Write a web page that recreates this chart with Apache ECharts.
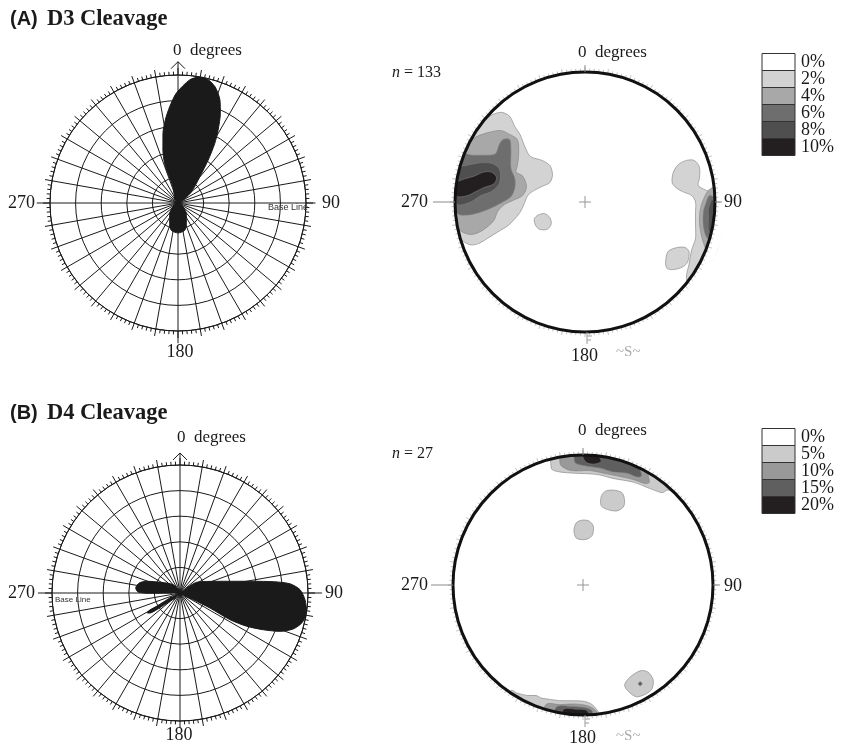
<!DOCTYPE html>
<html><head><meta charset="utf-8">
<script src="https://cdn.jsdelivr.net/npm/echarts@6/dist/echarts.min.js"></script>
<style>html,body{margin:0;padding:0;background:#fff}#c{width:843px;height:754px}</style>
</head><body><div id="c"></div>
<script>
// ===== Rose diagrams: lobe outlines traced in order (azimuth in degrees, length in grid-ring units, 5 rings) =====
const roseA_lobeN_deg = [315, 342.6, 341.2, 341.3, 344.1, 347.8, 351.3, 355.1, 359.1, 5.4, 9.8, 12.8, 17.6, 22.1, 25.3, 28.8, 31.7, 35.1, 39.8, 50.4, 61.6];
const roseA_lobeN_len = [0.18, 0.66, 1.21, 1.63, 2.15, 2.78, 3.28, 3.78, 4.29, 4.83, 5.0, 5.0, 4.77, 4.35, 3.87, 3.25, 2.73, 2.05, 1.33, 0.68, 0.22];
const roseA_lobeS_deg = [120, 142.2, 157.5, 166.2, 180, 193.8, 202.5, 217.8, 240];
const roseA_lobeS_len = [0.2, 0.53, 0.85, 1.1, 1.17, 1.1, 0.85, 0.53, 0.2];

const roseB_lobeE_deg = [53, 57.4, 72.3, 80, 83.1, 85.2, 88.4, 93.1, 99, 103.8, 107.6, 111, 113.8, 116.5, 118.1, 116.6, 116.7, 123];
const roseB_lobeE_len = [0.33, 0.78, 1.5, 2.64, 3.67, 4.31, 4.69, 4.89, 5.01, 4.9, 4.64, 4.18, 3.56, 2.91, 2.22, 1.31, 0.58, 0.23];
const roseB_lobeW_deg = [269.5, 269.5, 271.4, 276.5, 283.8, 289.4, 298.1, 321, 340];
const roseB_lobeW_len = [0.3, 1.18, 1.64, 1.74, 1.64, 1.38, 0.89, 0.42, 0.1];
const roseB_lobeSW_deg = [222, 233, 234.4, 236.5, 238.5, 240.5, 240.3, 246];
const roseB_lobeSW_len = [0.25, 0.8, 1.12, 1.42, 1.5, 1.38, 1.05, 0.35];

// ===== Stereonets: contour polygons (x,y in % of net radius, north up) =====
const A_2pct_west = [[-82,57],[-75,65],[-65,69],[-58,66],[-54,58],[-50,52],[-46,42],[-42,35],[-33,32],[-27,28],[-25,21],[-27,15],[-33,12],[-39,9],[-44,5],[-47,-2],[-50,-8],[-55,-14],[-59,-18],[-67,-23],[-75,-28],[-82,-32],[-88,-33],[-95,-29],[-98,-23],[-105,-10],[-106,10],[-101,32],[-93,48],[-86,58]];
const A_2pct_island = [[-39,-13],[-36,-10],[-31,-9],[-27,-12],[-26,-17],[-29,-21],[-35,-21],[-38,-18]];
const A_2pct_east = [[67,15],[68,23],[72,29],[78,32],[84,32],[88,27],[88,18],[87,13],[91,10],[96,8],[104,6],[106,-10],[104,-28],[98,-45],[88,-60],[81,-66],[78,-58],[80,-48],[82,-37],[85,-28],[85,-18],[85,-8],[85,0],[82,5],[75,8],[70,11]];
const A_2pct_eastBlob = [[62,-46],[64,-38],[71,-35],[77,-35],[80,-38],[79,-46],[75,-50],[68,-52],[63,-51]];
const A_4pct_west = [[-90,46],[-84,50],[-76,53],[-65,55],[-58,52],[-52,48],[-51,38],[-52,28],[-53,23],[-48,20],[-45,12],[-48,5],[-56,1],[-62,-2],[-67,-7],[-70,-14],[-75,-19],[-81,-23],[-88,-25],[-96,-22],[-104,-10],[-105,10],[-102,28],[-96,44]];
const A_4pct_east = [[95,9],[92,4],[89,-4],[88,-14],[89,-23],[91,-31],[94,-37],[100,-30],[104,-15],[104,2],[101,12]];
const A_6pct_west = [[-96,37],[-87,36],[-78,36],[-69,37],[-66,44],[-63,48],[-58,48],[-57,40],[-57,26],[-54,18],[-54,11],[-57,4],[-65,-1],[-73,-5],[-81,-8],[-90,-10],[-98,-9],[-105,5],[-104,25]];
const A_6pct_east = [[96,5],[93,-1],[91,-8],[91,-18],[93,-26],[96,-29],[103,-15],[103,0]];
const A_8pct_west = [[-100,26],[-92,28],[-82,30],[-73,30],[-67,27],[-65,22],[-66,14],[-72,8],[-80,5],[-88,0],[-98,-2],[-105,10]];
const A_8pct_east = [[98,2],[95,-5],[95,-12],[95,-22],[98,-24],[103,-10]];
const A_10pct_west = [[-99,15],[-92,18],[-85,20],[-78,23],[-72,23],[-68,19],[-70,14],[-78,11],[-84,8],[-90,5],[-98,4],[-104,8]];

const B_5pct_north = [[-25,95],[-24,89],[-18,87],[-7,86],[11,85],[23,82],[39,79],[52,74],[61,71],[65,73],[72,72],[55,88],[30,99],[0,104],[-20,102],[-27,98]];
const B_10pct_north = [[-18,97],[-17,92],[-9,88],[5,88],[16,86],[26,84],[39,81],[48,78],[51,79],[50,86],[52,90],[30,98],[0,104],[-19,101]];
const B_15pct_north = [[-7,99],[-6,94],[0,92],[13,90],[23,87],[34,86],[42,83],[45,84],[44,89],[45,94],[25,100],[0,104],[-8,103]];
const B_20pct_north = [[0,98],[3,94],[9,93],[14,95],[13,98],[14,102],[0,103]];
const B_5pct_blob1 = [[14,68],[17,72],[23,73],[30,71],[32,65],[31,60],[26,57],[19,58],[14,61]];
const B_5pct_blob2 = [[-7,42],[-5,48],[0,50],[5,49],[8,45],[7,38],[2,35],[-5,36]];
const B_5pct_blob3 = [[32,-77],[36,-71],[44,-66],[50,-67],[54,-73],[53,-80],[48,-84],[41,-86],[35,-82]];
const B_15pct_dot = [[44,-74.5],[45.5,-76],[44,-77.5],[42.5,-76]];
const B_5pct_south = [[-55,-81],[-51,-83],[-43,-85],[-36,-85],[-32,-87],[-25,-88],[-18,-89],[-8,-89],[1,-89.5],[7,-92],[12,-98],[14,-104],[-20,-103],[-45,-93],[-58,-86]];
const B_10pct_south = [[-28,-91.5],[-18,-92],[-8,-91.5],[2,-92.5],[8,-95],[11,-99],[10,-104],[-30,-100]];
const B_15pct_south = [[-20,-93.5],[-8,-93.5],[2,-94.5],[7,-97],[5,-104],[-22,-102]];
const B_20pct_south = [[-15,-95.5],[-5,-95.5],[3,-96.5],[5,-104],[-15,-104]];

// contour level index of each polygon (drawn in this order)
const contoursA = [
  [1, A_2pct_west], [1, A_2pct_island], [1, A_2pct_east], [1, A_2pct_eastBlob],
  [2, A_4pct_west], [2, A_4pct_east], [3, A_6pct_west], [3, A_6pct_east],
  [4, A_8pct_west], [4, A_8pct_east], [5, A_10pct_west]
];
const contoursB = [
  [1, B_5pct_north], [1, B_5pct_blob1], [1, B_5pct_blob2], [1, B_5pct_blob3], [1, B_5pct_south],
  [2, B_10pct_north], [2, B_10pct_south], [3, B_15pct_north], [3, B_15pct_dot], [3, B_15pct_south],
  [4, B_20pct_north], [4, B_20pct_south]
];

// legends
const legendA_labels = ['0%', '2%', '4%', '6%', '8%', '10%'];
const legendB_labels = ['0%', '5%', '10%', '15%', '20%'];
const nA = 133, nB = 27;

// ===== styles =====
const colorsA = ['#ffffff', '#d3d3d3', '#a8a8a8', '#6e6e6e', '#4f4f4f', '#231f20'];
const colorsB = ['#ffffff', '#cbcbcb', '#999999', '#5f5f5f', '#231f20'];
const INK = '#1a1a1a';
const SERIF = '"Liberation Serif","Times New Roman",serif';
const SANS = '"Liberation Sans",Arial,sans-serif';

const chart = echarts.init(document.getElementById('c'), null, {renderer: 'canvas'});

function angleAxis(i) {
  return {
    polarIndex: i, type: 'value', min: 0, max: 360, interval: 10, startAngle: 90, clockwise: true,
    axisLine: {show: true, lineStyle: {color: INK, width: 1}},
    axisTick: {show: true, length: 7, lineStyle: {color: INK, width: 1}},
    minorTick: {show: true, splitNumber: 5, length: 3.5, lineStyle: {color: INK, width: 1}},
    axisLabel: {show: false},
    splitLine: {show: true, lineStyle: {color: INK, width: 1}}
  };
}
function radiusAxis(i) {
  return {
    polarIndex: i, type: 'value', min: 0, max: 5, interval: 1,
    axisLine: {show: false}, axisTick: {show: false}, axisLabel: {show: false},
    splitLine: {show: true, lineStyle: {color: INK, width: 1}}
  };
}
function lobeSeries(pi, deg, len) {
  return {
    type: 'line', coordinateSystem: 'polar', polarIndex: pi, silent: true, z: 3,
    data: deg.map((d, k) => [len[k], d]), smooth: 0.25, symbol: 'none',
    lineStyle: {color: INK, width: 1}, areaStyle: {color: INK, opacity: 1}
  };
}
// axis extensions beyond the outer ring: [north, east, south, west] lengths in ring units
function roseFrame(pi, ext) {
  return {
    type: 'custom', coordinateSystem: 'polar', polarIndex: pi, silent: true, z: 4, data: [[0, 0]],
    renderItem: function (params, api) {
      const ch = [];
      const ln = (p, q, w) => ({type: 'line', shape: {x1: p[0], y1: p[1], x2: q[0], y2: q[1]}, style: {stroke: INK, lineWidth: w || 1}});
      [0, 90, 180, 270].forEach((a, k) => {
        if (ext[k] > 5) ch.push(ln(api.coord([5, a]), api.coord([ext[k], a])));
      });
      const tip = api.coord([ext[0], 0]);
      ch.push(ln(tip, [tip[0] - 7, tip[1] + 7]));
      ch.push(ln(tip, [tip[0] + 7, tip[1] + 7]));
      return {type: 'group', children: ch};
    }
  };
}
function contourSeries(gi, contours, colors) {
  return {
    type: 'custom', coordinateSystem: 'cartesian2d', xAxisIndex: gi, yAxisIndex: gi, silent: true, z: 2,
    data: contours.map(() => [0, 0]),
    renderItem: function (params, api) {
      const c = contours[params.dataIndex];
      return {
        type: 'polygon', shape: {points: c[1].map(p => api.coord(p)), smooth: 0.3},
        style: {fill: colors[c[0]], stroke: '#808080', lineWidth: 0.6}
      };
    }
  };
}
function netFrame(gi) {
  return {
    type: 'custom', coordinateSystem: 'cartesian2d', xAxisIndex: gi, yAxisIndex: gi, silent: true, z: 5,
    data: [[0, 0]],
    renderItem: function (params, api) {
      const c = api.coord([0, 0]);
      const R = api.size([100, 0])[0];
      const ch = [];
      const ln = (x1, y1, x2, y2, col, w) => ({type: 'line', shape: {x1, y1, x2, y2}, style: {stroke: col, lineWidth: w}});
      ch.push({type: 'ring', shape: {cx: c[0], cy: c[1], r: R + 11, r0: R}, style: {fill: '#fff'}});
      for (let a = 0; a < 360; a += 2) {
        const t = a * Math.PI / 180, s = Math.sin(t), k = -Math.cos(t);
        const L = (a % 10 === 0) ? 5 : 3.5;
        ch.push(ln(c[0] + s * (R + 0.5), c[1] + k * (R + 0.5), c[0] + s * (R + L), c[1] + k * (R + L), '#b2b2b2', 0.8));
      }
      ch.push({type: 'circle', shape: {cx: c[0], cy: c[1], r: R}, style: {fill: 'none', stroke: '#111', lineWidth: 3}});
      // center cross
      ch.push(ln(c[0] - 6, c[1], c[0] + 6, c[1], '#8a8a8a', 0.9));
      ch.push(ln(c[0], c[1] - 6, c[0], c[1] + 6, '#8a8a8a', 0.9));
      // cardinal marks
      ch.push(ln(c[0] - R - 22, c[1], c[0] - R, c[1], '#8a8a8a', 1));
      ch.push(ln(c[0] + R, c[1], c[0] + R + 7, c[1], '#8a8a8a', 1));
      ch.push(ln(c[0], c[1] - R - 7, c[0], c[1] - R, '#8a8a8a', 1));
      ch.push(ln(c[0] + 2, c[1] + R, c[0] + 2, c[1] + R + 12, '#9a9a9a', 1));
      ch.push(ln(c[0] + 2, c[1] + R + 4, c[0] + 7, c[1] + R + 4, '#9a9a9a', 1));
      ch.push(ln(c[0] + 2, c[1] + R + 8, c[0] + 6, c[1] + R + 8, '#9a9a9a', 1));
      return {type: 'group', children: ch};
    }
  };
}

function txt(x, y, s, font, align, fill) {
  return {type: 'text', x: x, y: y, z: 100, silent: true,
    style: {text: s, font: font, fill: fill || INK, align: align || 'left', verticalAlign: 'middle',
            textAlign: align || 'left', textVerticalAlign: 'middle'}};
}
function legend(x, y0, labels, colors) {
  const ch = [];
  labels.forEach((lab, i) => {
    ch.push({type: 'rect', z: 100, shape: {x: x, y: y0 + 17 * i, width: 33, height: 17},
             style: {fill: colors[i], stroke: '#333', lineWidth: 1}});
    ch.push(txt(x + 39, y0 + 17 * i + 8.5, lab, '18px ' + SERIF));
  });
  return ch;
}

const F18 = '18px ' + SERIF, F17 = '17px ' + SERIF;
const graphics = [
  txt(10, 19.5, '(A)', 'bold 20px ' + SANS),
  txt(47, 19.5, 'D3 Cleavage', 'bold 22.5px ' + SERIF),
  txt(10, 413, '(B)', 'bold 20px ' + SANS),
  txt(47, 413, 'D4 Cleavage', 'bold 22.5px ' + SERIF),
  // rose A
  txt(173, 51, '0  degrees', F17), txt(35, 203, '270', F18, 'right'), txt(322, 203, '90', F18),
  txt(180, 352.5, '180', F18, 'center'), txt(268, 207.5, 'Base Line', '9px ' + SANS, 'left', '#333'),
  // rose B
  txt(177, 437.5, '0  degrees', F17), txt(35, 593, '270', F18, 'right'), txt(325, 593, '90', F18),
  txt(179, 735.5, '180', F18, 'center'), txt(55, 600, 'Base Line', '8px ' + SANS, 'left', '#333'),
  // stereonet A
  txt(578, 52.5, '0  degrees', F17), txt(392, 73, 'n', 'italic 16px ' + SERIF), txt(404, 73, '= ' + nA, '16px ' + SERIF),
  txt(428, 202, '270', F18, 'right'), txt(724, 202, '90', F18), txt(584.5, 356, '180', F18, 'center'),
  txt(616, 352, '~S~', '15px ' + SERIF, 'left', '#a8a8a8'),
  // stereonet B
  txt(578, 431, '0  degrees', F17), txt(392, 454, 'n', 'italic 16px ' + SERIF), txt(404, 454, '= ' + nB, '16px ' + SERIF),
  txt(428, 585, '270', F18, 'right'), txt(724, 586, '90', F18), txt(582.5, 738.5, '180', F18, 'center'),
  txt(616, 736, '~S~', '15px ' + SERIF, 'left', '#a8a8a8')
].concat(legend(762, 53.5, legendA_labels, colorsA), legend(762, 428.5, legendB_labels, colorsB));

chart.setOption({
  animation: false,
  backgroundColor: '#fff',
  polar: [{center: [178, 203], radius: 128}, {center: [180, 593], radius: 128}],
  angleAxis: [angleAxis(0), angleAxis(1)],
  radiusAxis: [radiusAxis(0), radiusAxis(1)],
  grid: [{left: 455, top: 72, width: 260, height: 260}, {left: 453, top: 455, width: 260, height: 260}],
  xAxis: [0, 1].map(i => ({gridIndex: i, type: 'value', min: -100, max: 100, show: false})),
  yAxis: [0, 1].map(i => ({gridIndex: i, type: 'value', min: -100, max: 100, show: false})),
  graphic: graphics,
  series: [
    lobeSeries(0, roseA_lobeN_deg, roseA_lobeN_len),
    lobeSeries(0, roseA_lobeS_deg, roseA_lobeS_len),
    lobeSeries(1, roseB_lobeE_deg, roseB_lobeE_len),
    lobeSeries(1, roseB_lobeW_deg, roseB_lobeW_len),
    lobeSeries(1, roseB_lobeSW_deg, roseB_lobeSW_len),
    roseFrame(0, [5.52, 5.37, 5.48, 5.52]),
    roseFrame(1, [5.47, 5.55, 5.0, 5.55]),
    contourSeries(0, contoursA, colorsA),
    contourSeries(1, contoursB, colorsB),
    netFrame(0),
    netFrame(1)
  ]
});
</script></body></html>
